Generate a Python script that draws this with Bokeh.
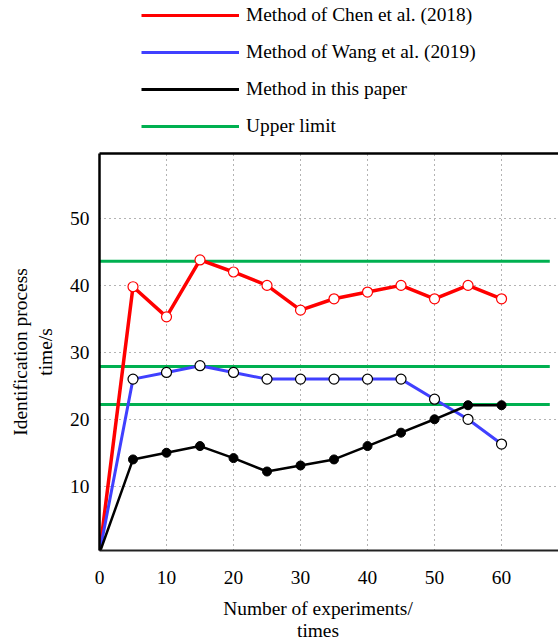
from bokeh.plotting import figure
from bokeh.layouts import column
from bokeh.models import (Range1d, FixedTicker, LinearAxis, Legend, LegendItem, Label)
from bokeh.embed import file_html
from bokeh.resources import INLINE

# ---- data ----
experiments = [0, 5, 10, 15, 20, 25, 30, 35, 40, 45, 50, 55, 60]
chen_2018 = [0, 39.8, 35.3, 43.8, 42.0, 40.0, 36.3, 38.0, 39.0, 40.0, 38.0, 40.0, 38.0]
wang_2019 = [0, 26.0, 27.0, 28.0, 27.0, 26.0, 26.0, 26.0, 26.0, 26.0, 23.0, 20.0, 16.3]
this_paper = [0, 14.0, 15.0, 16.0, 14.2, 12.2, 13.1, 14.0, 16.0, 18.0, 20.0, 22.1, 22.1]
upper_limits = [43.6, 27.9, 22.2]
limit_span = [0, 67.2]
x_ticks = [0, 10, 20, 30, 40, 50, 60]
y_ticks = [10, 20, 30, 40, 50]
labels = ["Method of Chen et al. (2018)", "Method of Wang et al. (2019)",
          "Method in this paper", "Upper limit"]
x_title = ["Number of experiments/", "times"]

FONT = "Liberation Serif"
FS = "19.4px"
RED = "#ff0000"
BLUE = "#4040ff"
GREEN = "#00b050"
W = 558
LEFT = 99  # frame left edge (frames are aligned in the column)


def blank(height):
    f = figure(width=W, height=height, output_backend="svg", toolbar_location=None,
               x_range=Range1d(LEFT, W), y_range=Range1d(0, height),
               x_axis_location=None, y_axis_location=None,
               min_border=0, min_border_left=LEFT, min_border_right=0,
               min_border_top=0, min_border_bottom=0)
    f.outline_line_color = None
    f.xgrid.grid_line_color = None
    f.ygrid.grid_line_color = None
    f.xgrid.visible = False
    f.ygrid.visible = False
    return f


# ---- legend strip ----
lf = blank(150)
colors = [RED, BLUE, "black", GREEN]
leg_rs = [lf.line([-10, -9], [-10, -9], line_color=c, line_width=3) for c in colors]
legend = Legend(items=[LegendItem(label=lab, renderers=[r]) for lab, r in zip(labels, leg_rs)],
                location=(42, 13), orientation="vertical",
                padding=0, margin=0, spacing=15,
                glyph_width=98, glyph_height=20, label_height=20,
                label_standoff=7, border_line_color=None,
                background_fill_alpha=0,
                label_text_font=FONT, label_text_font_size=FS,
                label_text_color="black")
lf.add_layout(legend, "center")

# ---- main chart ----
p = figure(width=W, height=445, output_backend="svg", toolbar_location=None,
           x_range=Range1d(0, 68.5), y_range=Range1d(0.4, 59.7),
           min_border_left=LEFT, min_border_right=0, min_border_top=3,
           min_border_bottom=45)
p.outline_line_color = None

p.xgrid.ticker = FixedTicker(ticks=x_ticks)
p.ygrid.ticker = FixedTicker(ticks=y_ticks)
for g in (p.xgrid, p.ygrid):
    g.grid_line_color = "#666666"
    g.grid_line_dash = "1 4"
    g.grid_line_width = 1

p.xaxis.ticker = FixedTicker(ticks=x_ticks)
p.yaxis.ticker = FixedTicker(ticks=y_ticks)
for ax in (p.xaxis, p.yaxis):
    ax.major_tick_line_color = None
    ax.minor_tick_line_color = None
    ax.major_tick_out = 0
    ax.major_tick_in = 0
    ax.major_label_text_font = FONT
    ax.major_label_text_font_size = FS
    ax.major_label_text_color = "black"
p.xaxis.axis_line_color = "#222222"
p.xaxis.axis_line_width = 2
p.xaxis.major_label_standoff = 20
p.yaxis.axis_line_color = "black"
p.yaxis.axis_line_width = 2.5
p.yaxis.major_label_standoff = 10
p.yaxis.axis_label = "Identification process\ntime/s"
p.yaxis.axis_label_text_font = FONT
p.yaxis.axis_label_text_font_size = FS
p.yaxis.axis_label_text_font_style = "normal"
p.yaxis.axis_label_text_color = "black"
p.yaxis.axis_label_standoff = 11

top = LinearAxis(ticker=FixedTicker(ticks=[]), axis_line_color="black",
                 axis_line_width=2.5, major_tick_line_color=None,
                 minor_tick_line_color=None, major_tick_out=0, major_tick_in=0,
                 minor_tick_out=0, minor_tick_in=0, major_label_standoff=0)
p.add_layout(top, "above")

for lim in upper_limits:
    p.line(limit_span, [lim, lim], line_color=GREEN, line_width=3)

p.line(experiments, chen_2018, line_color=RED, line_width=3.5)
p.line(experiments, wang_2019, line_color=BLUE, line_width=3)
p.line(experiments, this_paper, line_color="black", line_width=2.5)

p.scatter(experiments[1:], chen_2018[1:], size=10, fill_color="white",
          line_color=RED, line_width=1.2)
p.scatter(experiments[1:], wang_2019[1:], size=10, fill_color="white",
          line_color="black", line_width=1.2)
p.scatter(experiments[1:], this_paper[1:], size=9, fill_color="black",
          line_color="black", line_width=1)

# ---- x axis title strip ----
tf = blank(46)
tf.add_layout(Label(x=317.5, y=33, text=x_title[0], text_font=FONT,
                    text_font_size=FS, text_align="center",
                    text_baseline="middle", text_color="black"))
tf.add_layout(Label(x=317.5, y=11, text=x_title[1], text_font=FONT,
                    text_font_size=FS, text_align="center",
                    text_baseline="middle", text_color="black"))

layout = column(lf, p, tf, spacing=0)
open("out.html", "w").write(file_html(layout, INLINE))
